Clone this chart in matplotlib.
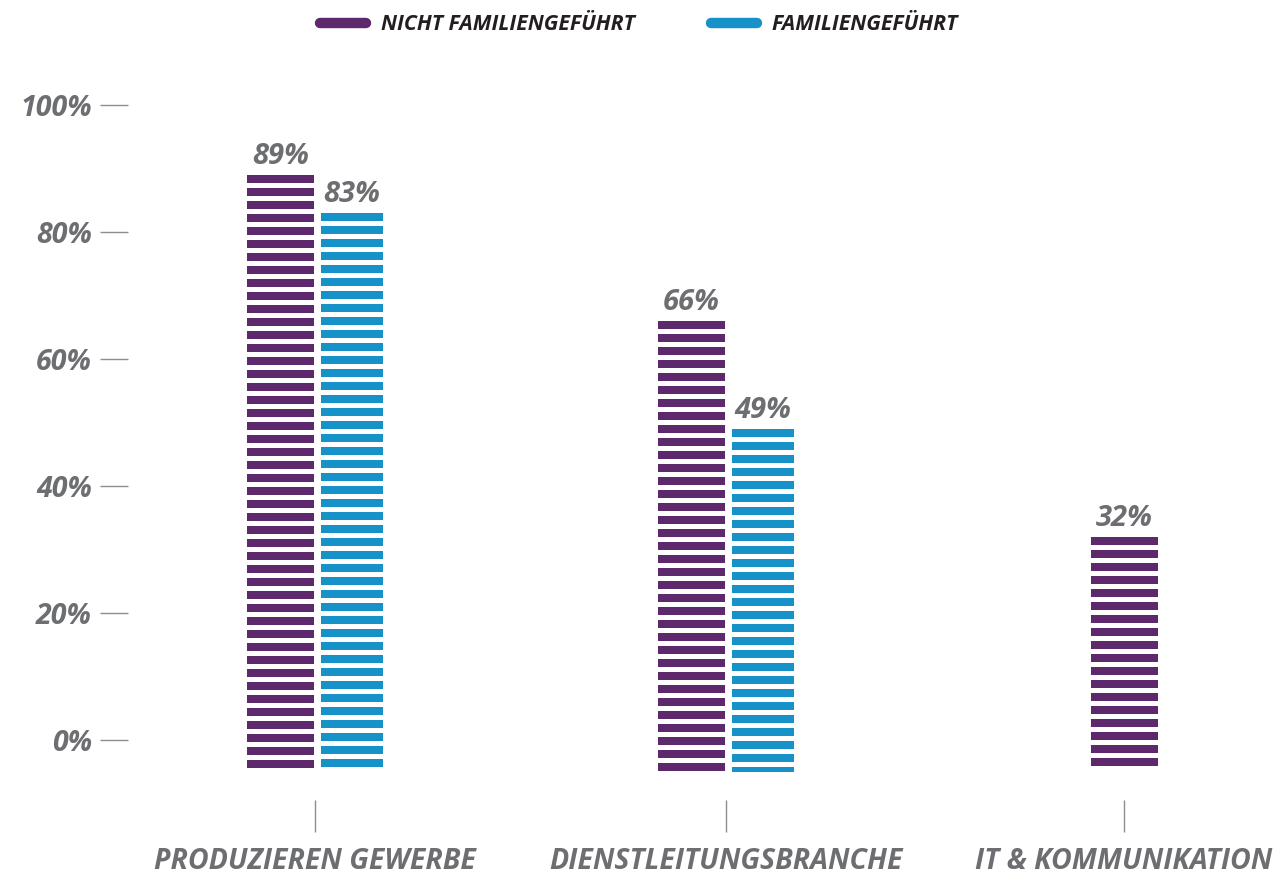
import matplotlib
matplotlib.use("Agg")
from matplotlib import pyplot as plt
from matplotlib.lines import Line2D

categories = ["PRODUZIEREN GEWERBE", "DIENSTLEITUNGSBRANCHE", "IT & KOMMUNIKATION"]
nicht_familiengefuehrt = [89, 66, 32]
familiengefuehrt = [83, 49, None]
series_names = ["NICHT FAMILIENGEFÜHRT", "FAMILIENGEFÜHRT"]
y_ticks = [0, 20, 40, 60, 80, 100]

# layout (x in pixels of the 1275 px wide figure)
x_pos = [315, 726, 1124]
PURPLE = "#5e296c"
BLUE = "#1692c8"
GRAY = "#6d6e71"
TICK_GRAY = "#8c8e91"
FONT = "Open Sans"
TXT = dict(family=FONT, fontweight="bold", fontstyle="italic")

PX = 6.35            # pixels per percentage point
base = -5.0          # bars start a little below the 0% line
period = 13 / PX     # stripe period: 13 px
gap = 5 / PX         # white gap: 5 px


def striped_bar(ax, x, width, top, color):
    # stripes are drawn from the top downward
    y = top
    while y - base > 0.2:
        lo = max(y - (period - gap), base)
        ax.bar(x, y - lo, bottom=lo, width=width, color=color, linewidth=0, zorder=2)
        y -= period
    ax.annotate(f"{top}%", (x, top), xytext=(0, 3), textcoords="offset points",
                ha="center", va="bottom", fontsize=21, color=GRAY, zorder=4, **TXT)


fig = plt.figure(figsize=(12.75, 8.75), dpi=100)
ax = fig.add_axes([128 / 1275, 75 / 875, 1 - 128 / 1275, (800 - 60) / 875])

for i, cat in enumerate(categories):
    a, b = nicht_familiengefuehrt[i], familiengefuehrt[i]
    if b is None:
        striped_bar(ax, x_pos[i], 67, a, PURPLE)
    else:
        striped_bar(ax, x_pos[i] - 34.5, 67, a, PURPLE)
        striped_bar(ax, x_pos[i] + 37, 62, b, BLUE)

ax.set_xlim(128, 1275)
ax.set_ylim((740 - 800) / PX, (740 - 60) / PX)

ax.set_yticks(y_ticks)
ax.set_yticklabels([f"{t}%" for t in y_ticks])
ax.set_xticks(x_pos)
ax.set_xticklabels(categories)

for s in ax.spines.values():
    s.set_visible(False)
ax.tick_params(axis="y", direction="out", length=20, width=1, color=TICK_GRAY,
               pad=6, labelsize=20.5, labelcolor=GRAY)
ax.tick_params(axis="x", direction="out", length=23, width=1, color=TICK_GRAY,
               pad=10.5, labelsize=20.5, labelcolor=GRAY)
for lab in ax.get_xticklabels() + ax.get_yticklabels():
    lab.set_fontweight("bold")
    lab.set_fontstyle("italic")
    lab.set_family(FONT)

handles = [Line2D([], [], color=PURPLE, linewidth=7.5, solid_capstyle="round"),
           Line2D([], [], color=BLUE, linewidth=7.5, solid_capstyle="round")]
fig.legend(handles, series_names, loc="center", bbox_to_anchor=(639 / 1275, 1 - 25 / 875),
           ncol=2, frameon=False, handlelength=2.15, handletextpad=0.7, columnspacing=3.6,
           prop={"family": FONT, "weight": "bold", "style": "italic", "size": 15.3},
           labelcolor="#231f20")

fig.savefig("out.png", dpi=100)
